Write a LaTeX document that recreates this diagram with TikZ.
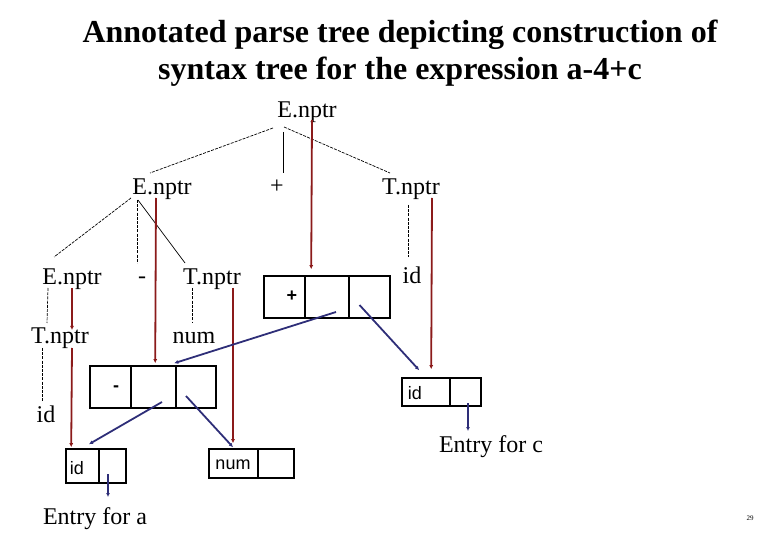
\documentclass[tikz,border=0pt]{standalone}
\usepackage{fontspec}
\setmainfont{Liberation Serif}
\newfontfamily\boxfont{Liberation Sans}
\usetikzlibrary{calc,arrows.meta}
\definecolor{ptrred}{HTML}{8B1A1A}
\definecolor{ptrblue}{HTML}{2E2E78}
\tikzset{
  lbl/.style={inner sep=0pt,anchor=base,font=\fontsize{24}{24}\selectfont},
  ttl/.style={inner sep=0pt,font=\fontsize{32}{37}\selectfont\bfseries,align=center},
  cell/.style={draw=black,line width=1.6pt,inner sep=0pt},
  celltxt/.style={inner sep=0pt,font=\boxfont\fontsize{18}{18}\selectfont},
  tdash/.style={line width=0.7pt,dash pattern=on 3pt off 1.2pt},
  tsolid/.style={line width=0.7pt},
  redptr/.style={draw=ptrred,line width=1.8pt,-{Latex[length=4pt,width=4pt]}},
  blueptr/.style={draw=ptrblue,line width=1.8pt,-{Latex[length=4pt,width=4pt]}}
}
\begin{document}
\begin{tikzpicture}[x=1pt,y=-1pt]
\useasboundingbox (0,0) rectangle (780,540);
% title
\node[ttl] (title) at (400,53) {Annotated parse tree depicting construction of\\syntax tree for the expression a-4+c};
% tree labels (positioned by baseline)
\node[lbl] (root) at (307,118) {E.nptr};
\node[lbl] (E2) at (162,195) {E.nptr};
\node[lbl] (plus) at (277,194) {+};
\node[lbl] (T2) at (411,195) {T.nptr};
\node[lbl] (E3) at (72,285) {E.nptr};
\node[lbl] (minus) at (142,284) {-};
\node[lbl] (T3) at (212,285) {T.nptr};
\node[lbl] (idr) at (412,284) {id};
\node[lbl] (T4) at (60,344) {T.nptr};
\node[lbl] (num) at (194,344) {num};
\node[lbl] (id5) at (46,422) {id};
\node[lbl] (entrya) at (95,524) {Entry for a};
\node[lbl] (entryc) at (491,452) {Entry for c};
\node[inner sep=0pt,font=\fontsize{7}{7}\selectfont] (pageno) at (750,518) {29};
% cells
\node[cell,minimum width=41pt,minimum height=42pt] (p1) at (284.5,297) {};
\node[cell,minimum width=44pt,minimum height=42pt] (p2) at (327,297) {};
\node[cell,minimum width=41pt,minimum height=42pt] (p3) at (369.5,297) {};
\node[celltxt,font=\boxfont\bfseries\fontsize{18}{18}\selectfont] (p1t) at (292,296) {+};
\node[cell,minimum width=41pt,minimum height=42pt] (m1) at (110.5,387) {};
\node[cell,minimum width=45pt,minimum height=42pt] (m2) at (153.5,387) {};
\node[cell,minimum width=40pt,minimum height=42pt] (m3) at (196,387) {};
\node[celltxt,font=\boxfont\bfseries\fontsize{18}{18}\selectfont] (m1t) at (116,389) {-};
\node[cell,minimum width=33pt,minimum height=34pt] (a1) at (82.5,466) {};
\node[cell,minimum width=27pt,minimum height=34pt] (a2) at (112.5,466) {};
\node[celltxt] (a1t) at (77,468) {id};
\node[cell,minimum width=49pt,minimum height=29pt] (n1) at (233.5,463.5) {};
\node[cell,minimum width=36pt,minimum height=29pt] (n2) at (276,463.5) {};
\node[celltxt] (n1t) at (233,465) {num};
\node[cell,minimum width=48pt,minimum height=28pt] (c1) at (426,392) {};
\node[cell,minimum width=31pt,minimum height=28pt] (c2) at (465.5,392) {};
\node[celltxt] (c1t) at (415,393) {id};
% tree edges
\draw[tdash] ($(root.base)+(-34,10)$) -- ($(E2.base)+(-12,-22)$);
\draw[tsolid] ($(root.base)+(-24,14)$) -- ($(plus.base)+(6,-21)$);
\draw[tdash] ($(root.base)+(-23,9)$) -- ($(T2.base)+(-21,-22)$);
\draw[tdash] ($(E2.base)+(-31,3)$) -- ($(E3.base)+(-18,-28)$);
\draw[tdash] ($(E2.base)+(-25,5)$) -- ($(minus.base)+(-5,-21)$);
\draw[tsolid] ($(E2.base)+(-24,5)$) -- ($(T3.base)+(-27,-22)$);
\draw[tdash] ($(E3.base)+(-24,3)$) -- ($(T4.base)+(-13,-21)$);
\draw[tdash] ($(T3.base)+(-20,3)$) -- ($(num.base)+(-2,-21)$);
\draw[tdash] ($(T2.base)+(-3,10)$) -- ($(idr.base)+(-4,-27)$);
\draw[tdash] ($(T4.base)+(-18,4)$) -- ($(id5.base)+(-4,-20)$);
% red pointers
\draw[redptr] ($(root.base)+(5,2)$) -- ($(p2.north west)+(7,-6)$);
\draw[redptr] ($(E2.base)+(-6,3)$) -- ($(m2.north west)+(25,-2)$);
\draw[redptr] ($(T3.base)+(21,3)$) -- ($(n1.north)+(-0.5,-5)$);
\draw[redptr] ($(E3.base)+(0,3)$) -- ($(T4.base)+(12,-14)$);
\draw[redptr] ($(T4.base)+(12,4)$) -- ($(a1.north west)+(6,-1)$);
\draw[redptr] ($(T2.base)+(21,3)$) -- ($(c1.north west)+(30,-8)$);
% blue pointers
\draw[blueptr] ($(p2.center)+(9,15)$) -- ($(m3.north west)+(-1,-2)$);
\draw[blueptr] ($(p3.center)+(-10,8)$) -- ($(c1.north west)+(18,-7)$);
\draw[blueptr] ($(m2.center)+(8.5,15)$) -- ($(a1.north)+(6.5,-4)$);
\draw[blueptr] ($(m3.center)+(-10,9)$) -- ($(n1.north)+(-0.5,-1)$);
\draw[blueptr] ($(a2.center)+(-4.5,8)$) -- ($(a2.center)+(-4.5,31)$);
\draw[blueptr] ($(c2.center)+(2.5,11)$) -- ($(c2.center)+(2.5,39)$);
\end{tikzpicture}
\end{document}
